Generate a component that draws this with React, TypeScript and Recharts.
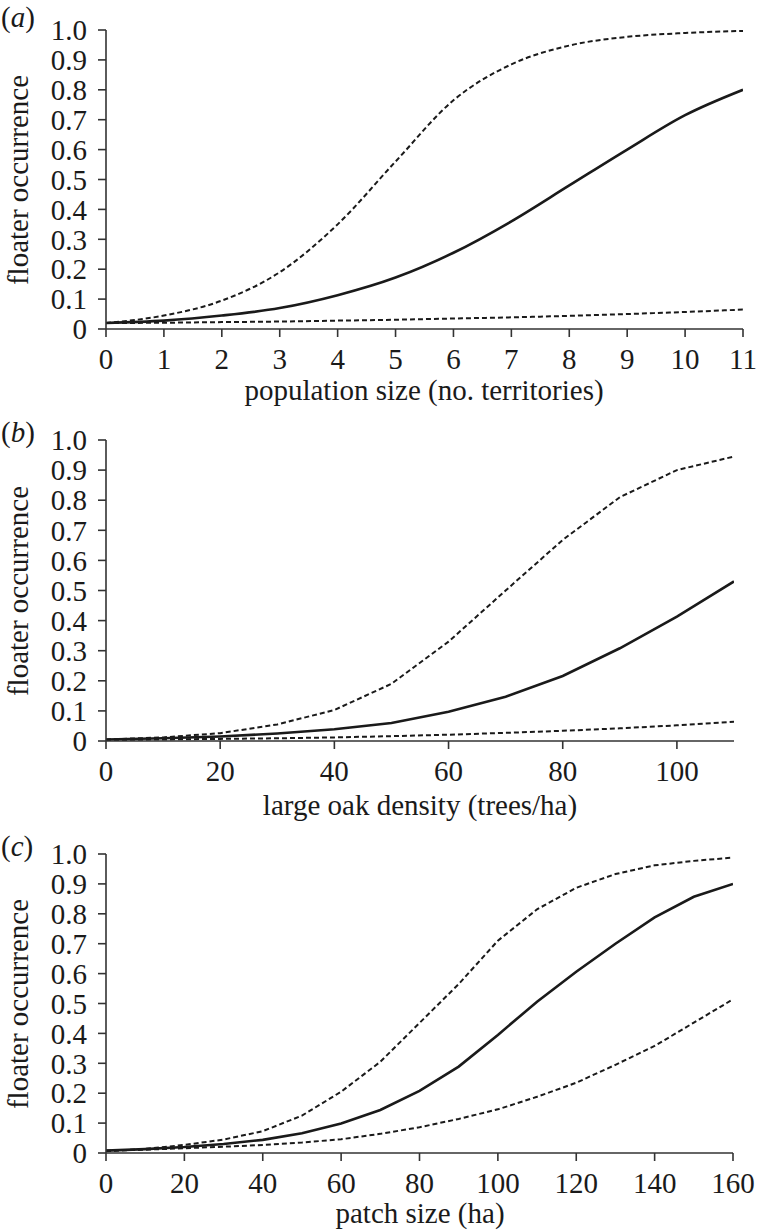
import { LineChart, Line, XAxis, YAxis } from "recharts";

const FONT = "Liberation Serif, Times New Roman, Times, Tinos, Nimbus Roman, DejaVu Serif, serif";
const INK = "#1a1a1a";

// (a) population size
const popX = [0, 1, 2, 3, 4, 5, 6, 7, 8, 9, 10, 11];
const popMean = [0.02, 0.028, 0.045, 0.07, 0.113, 0.172, 0.255, 0.36, 0.48, 0.6, 0.715, 0.8];
const popUpper = [0.02, 0.045, 0.095, 0.19, 0.35, 0.56, 0.765, 0.885, 0.948, 0.977, 0.99, 0.997];
const popLower = [0.02, 0.021, 0.023, 0.025, 0.028, 0.031, 0.035, 0.039, 0.044, 0.05, 0.057, 0.065];
const popTicks = [0, 1, 2, 3, 4, 5, 6, 7, 8, 9, 10, 11];

// (b) large oak density
const oakX = [0, 10, 20, 30, 40, 50, 60, 70, 80, 90, 100, 110];
const oakMean = [0.005, 0.009, 0.015, 0.025, 0.039, 0.06, 0.097, 0.147, 0.216, 0.308, 0.413, 0.53];
const oakUpper = [0.005, 0.012, 0.026, 0.055, 0.103, 0.19, 0.33, 0.5, 0.668, 0.81, 0.9, 0.945];
const oakLower = [0.003, 0.005, 0.007, 0.009, 0.012, 0.016, 0.021, 0.027, 0.034, 0.042, 0.052, 0.064];
const oakTicks = [0, 20, 40, 60, 80, 100];

// (c) patch size
const patchX = [0, 10, 20, 30, 40, 50, 60, 70, 80, 90, 100, 110, 120, 130, 140, 150, 160];
const patchMean = [0.008, 0.013, 0.02, 0.03, 0.044, 0.066, 0.099, 0.144, 0.208, 0.289, 0.395, 0.506, 0.606, 0.7, 0.788, 0.857, 0.9];
const patchUpper = [0.006, 0.014, 0.027, 0.045, 0.073, 0.125, 0.205, 0.305, 0.435, 0.565, 0.71, 0.815, 0.887, 0.933, 0.962, 0.977, 0.988];
const patchLower = [0.008, 0.011, 0.016, 0.021, 0.027, 0.035, 0.046, 0.064, 0.086, 0.114, 0.146, 0.188, 0.235, 0.295, 0.358, 0.436, 0.514];
const patchTicks = [0, 20, 40, 60, 80, 100, 120, 140, 160];

const yTicks = [0, 0.1, 0.2, 0.3, 0.4, 0.5, 0.6, 0.7, 0.8, 0.9, 1.0];

function rows(xs: number[], mean: number[], upper: number[], lower: number[]) {
  return xs.map((x, i) => ({ x, mean: mean[i], upper: upper[i], lower: lower[i] }));
}

const fmtY = (v: number) => (v === 0 ? "0" : v.toFixed(1));

interface PanelProps {
  top: number;
  height: number;
  right: number;
  data: { x: number; mean: number; upper: number; lower: number }[];
  domainMax: number;
  ticks: number[];
  curve: "monotone" | "linear";
}

function Panel({ top, height, right, data, domainMax, ticks, curve }: PanelProps) {
  const tick = { fontSize: 29, fill: INK, fontFamily: FONT };
  const axisLine = { stroke: "#333", strokeWidth: 1.6 };
  return (
    <div style={{ position: "absolute", left: 0, top }}>
      <LineChart width={758} height={height} data={data} margin={{ top: 30, right, bottom: 0, left: 0 }}>
        <XAxis
          type="number"
          dataKey="x"
          domain={[0, domainMax]}
          ticks={ticks}
          interval={0}
          height={46}
          tick={tick}
          tickSize={8}
          tickMargin={11}
          axisLine={axisLine}
          tickLine={axisLine}
          allowDataOverflow
        />
        <YAxis
          type="number"
          domain={[0, 1]}
          ticks={yTicks}
          interval={0}
          width={106}
          tick={tick}
          tickSize={8}
          tickMargin={11}
          tickFormatter={fmtY}
          axisLine={axisLine}
          tickLine={axisLine}
        />
        <Line type={curve} dataKey="upper" stroke={INK} strokeWidth={2} strokeDasharray="5 3" dot={false} isAnimationActive={false} />
        <Line type={curve} dataKey="lower" stroke={INK} strokeWidth={2} strokeDasharray="5 3" dot={false} isAnimationActive={false} />
        <Line type={curve} dataKey="mean" stroke={INK} strokeWidth={2.6} dot={false} isAnimationActive={false} />
      </LineChart>
    </div>
  );
}

function Text({ x, y, children, center, rotate }: { x: number; y: number; children: React.ReactNode; center?: boolean; rotate?: boolean }) {
  let transform = "";
  if (rotate) transform = "translate(-50%, -50%) rotate(-90deg)";
  else if (center) transform = "translateX(-50%)";
  return (
    <div
      style={{
        position: "absolute",
        left: x,
        top: y,
        transform,
        fontFamily: FONT,
        fontSize: 29,
        lineHeight: 1,
        whiteSpace: "nowrap",
        color: INK,
      }}
    >
      {children}
    </div>
  );
}

export default function App() {
  return (
    <div style={{ position: "absolute", left: 0, top: 0, width: 758, height: 1231, background: "#fff", overflow: "hidden" }}>
      <Panel top={0} height={375} right={15} data={rows(popX, popMean, popUpper, popLower)} domainMax={11} ticks={popTicks} curve="monotone" />
      <Panel top={410} height={377} right={24} data={rows(oakX, oakMean, oakUpper, oakLower)} domainMax={110} ticks={oakTicks} curve="linear" />
      <Panel top={824} height={375} right={25} data={rows(patchX, patchMean, patchUpper, patchLower)} domainMax={160} ticks={patchTicks} curve="linear" />

      <Text x={1} y={3}>(<i>a</i>)</Text>
      <Text x={1} y={418}>(<i>b</i>)</Text>
      <Text x={1} y={832}>(<i>c</i>)</Text>

      <Text x={18} y={180} rotate>floater occurrence</Text>
      <Text x={18} y={591} rotate>floater occurrence</Text>
      <Text x={18} y={1004} rotate>floater occurrence</Text>

      <Text x={424} y={376} center>population size (no. territories)</Text>
      <Text x={420} y={791} center>large oak density (trees/ha)</Text>
      <Text x={420} y={1199} center>patch size (ha)</Text>
    </div>
  );
}
